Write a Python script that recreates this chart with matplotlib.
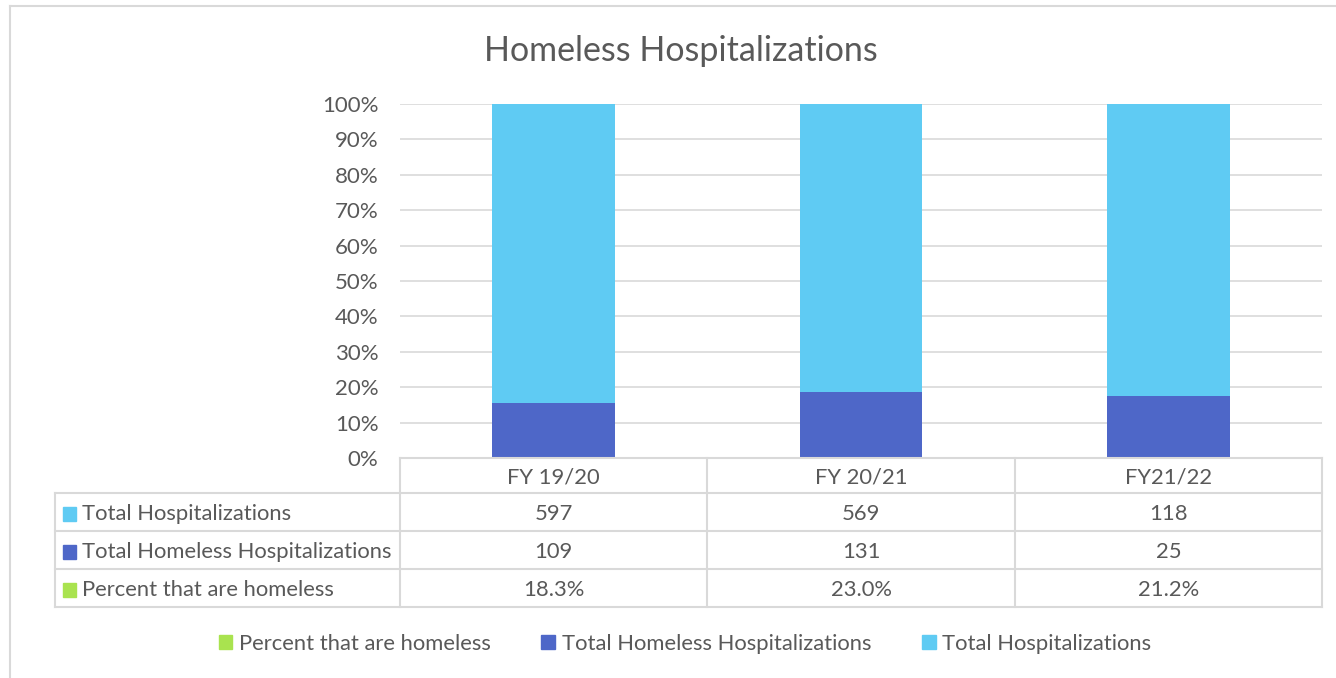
import matplotlib
matplotlib.use("Agg")
import matplotlib.pyplot as plt
from matplotlib.lines import Line2D
from matplotlib.patches import Rectangle
import numpy as np

categories = ["FY 19/20", "FY 20/21", "FY21/22"]
total_hosp = [597, 569, 118]
homeless_hosp = [109, 131, 25]
percent_homeless = [0.183, 0.230, 0.212]
percent_labels = ["18.3%", "23.0%", "21.2%"]
yticks = [0, 0.1, 0.2, 0.3, 0.4, 0.5, 0.6, 0.7, 0.8, 0.9, 1.0]

C_TOTAL = "#5FCBF3"
C_HOME = "#4E67C8"
C_PCT = "#A9E34F"
TXT = "#595959"
GRID = "#D9D9D9"

plt.rcParams['font.family'] = ['Lato', 'DejaVu Sans']

W, H = 1336, 678
fig = plt.figure(figsize=(W/100, H/100), dpi=100)

def fx(px): return px / W
def fy(py): return 1 - py / H

# chart border
fig.add_artist(Line2D([fx(10), fx(10)], [fy(6), 0], color=GRID, lw=1.5))
fig.add_artist(Line2D([fx(10), 1], [fy(6), fy(6)], color=GRID, lw=1.5))

x0, x1 = 400, 1322
ytop, ybot = 104, 458
ax = fig.add_axes([fx(x0), fy(ybot), fx(x1) - fx(x0), fy(ytop) - fy(ybot)])

pct = np.array(percent_homeless)
hom = np.array(homeless_hosp, dtype=float)
tot = np.array(total_hosp, dtype=float)
s = pct + hom + tot
x = np.arange(len(categories))
ax.bar(x, pct / s, width=0.4, color=C_PCT, zorder=3)
ax.bar(x, hom / s, width=0.4, bottom=pct / s, color=C_HOME, zorder=3)
ax.bar(x, tot / s, width=0.4, bottom=(pct + hom) / s, color=C_TOTAL, zorder=3)
ax.set_xlim(-0.5, len(categories) - 0.5)
ax.set_ylim(0, 1)
ax.set_yticks(yticks)
ax.set_yticklabels([f"{int(round(t*100))}%" for t in yticks])
ax.tick_params(axis='y', length=0, labelsize=16, labelcolor=TXT, pad=15.5)
ax.set_xticks([])
ax.grid(axis='y', color=GRID, lw=1.2, zorder=0)
for sp in ax.spines.values():
    sp.set_visible(False)

fig.text(fx(681), fy(51), "Homeless Hospitalizations", ha='center', va='center',
         fontsize=24.5, color=TXT)

# data table
tx0 = 55
unit = (x1 - x0) / len(categories)
tax = fig.add_axes([fx(tx0), fy(607), fx(x1) - fx(tx0), fy(458) - fy(607)])
tax.set_xlim(-0.5 - (x0 - tx0) / unit, len(categories) - 0.5)
tax.set_ylim(607, 458)
tax.axis('off')
lx = -0.5 - (x0 - tx0) / unit
rows_y = [458, 493, 531, 569, 607]
lw = 1.5
tax.plot([-0.5, len(categories) - 0.5], [458, 458], color=GRID, lw=lw, clip_on=False)
for yy in rows_y[1:]:
    tax.plot([lx, len(categories) - 0.5], [yy, yy], color=GRID, lw=lw, clip_on=False)
tax.plot([lx, lx], [493, 607], color=GRID, lw=lw, clip_on=False)
for i in range(len(categories) + 1):
    tax.plot([i - 0.5, i - 0.5], [458, 607], color=GRID, lw=lw, clip_on=False)

FS = 15.8
for i, c in enumerate(categories):
    tax.text(i, (458 + 493) / 2 + 1.5, c, ha='center', va='center', fontsize=FS, color=TXT)

row_labels = ["Total Hospitalizations", "Total Homeless Hospitalizations", "Percent that are homeless"]
row_colors = [C_TOTAL, C_HOME, C_PCT]
row_vals = [[str(v) for v in total_hosp], [str(v) for v in homeless_hosp], percent_labels]
for r in range(3):
    yc = (rows_y[r + 1] + rows_y[r + 2]) / 2 + 1.5
    sq_x = lx + 8 / unit
    tax.add_patch(Rectangle((sq_x, yc - 7), 13 / unit, 14, color=row_colors[r], clip_on=False))
    tax.text(lx + 27 / unit, yc, row_labels[r], ha='left', va='center', fontsize=FS, color=TXT)
    for i in range(len(categories)):
        tax.text(i, yc, row_vals[r][i], ha='center', va='center', fontsize=FS, color=TXT)

handles = [Rectangle((0, 0), 1, 1, color=C_PCT), Rectangle((0, 0), 1, 1, color=C_HOME),
           Rectangle((0, 0), 1, 1, color=C_TOTAL)]
labels = ["Percent that are homeless", "Total Homeless Hospitalizations", "Total Hospitalizations"]
leg = fig.legend(handles, labels, loc='center', bbox_to_anchor=(fx(685), fy(644)), ncol=3,
                 frameon=False, fontsize=FS, handlelength=0.63, handleheight=0.63,
                 handletextpad=0.3, columnspacing=2.3, labelcolor=TXT)

fig.savefig("out.png", dpi=100)
